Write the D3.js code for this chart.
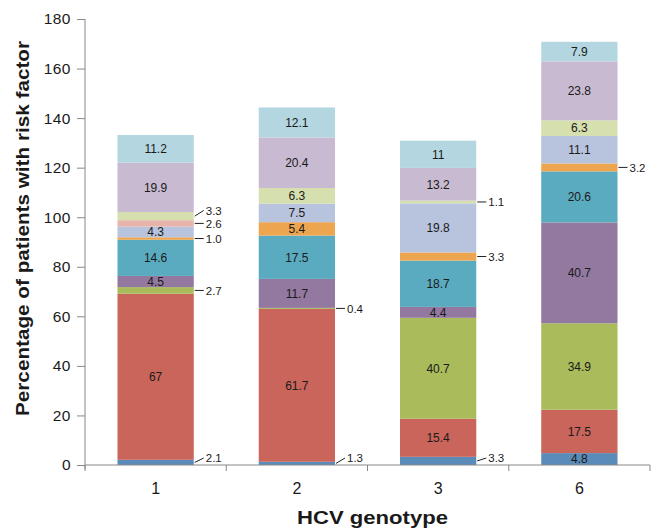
<!DOCTYPE html>
<html>
<head>
<meta charset="utf-8">
<script src="https://cdn.jsdelivr.net/npm/d3@7"></script>
<style>
  body { margin: 0; background: #fff; }
  svg { font-family: "Liberation Sans", Arial, sans-serif; }
</style>
</head>
<body>
<svg id="chart"></svg>
<script>
// genotypes along the x axis
var genotypes = ["1", "2", "3", "6"];

// risk factor layers, bottom to top (values per genotype, 0 = absent)
var layer1  = [2.1, 1.3, 3.3, 4.8];
var layer2  = [67, 61.7, 15.4, 17.5];
var layer3  = [2.7, 0.4, 40.7, 34.9];
var layer4  = [4.5, 11.7, 4.4, 40.7];
var layer5  = [14.6, 17.5, 18.7, 20.6];
var layer6  = [1.0, 5.4, 3.3, 3.2];
var layer7  = [4.3, 7.5, 19.8, 11.1];
var layer8  = [2.6, 0, 0, 0];
var layer9  = [3.3, 6.3, 1.1, 6.3];
var layer10 = [19.9, 20.4, 13.2, 23.8];
var layer11 = [11.2, 12.1, 11, 7.9];

var layerColors = ["#5b8cb9", "#c9655a", "#a9bb5b", "#9378a0", "#5aabbf",
                   "#eda54f", "#b8c3de", "#e7b4ab", "#d6dfae", "#c8bad0", "#b4d6e0"];

var yTicks = [0, 20, 40, 60, 80, 100, 120, 140, 160, 180];

var layers = [layer1, layer2, layer3, layer4, layer5, layer6,
              layer7, layer8, layer9, layer10, layer11];

var screen = {width: 652, height: 530};
var margins = {top: 19, right: 2, bottom: 65, left: 85};
var width = screen.width - margins.left - margins.right;
var height = screen.height - margins.top - margins.bottom;

var svg = d3.select("#chart")
            .attr("width", screen.width)
            .attr("height", screen.height);

var g = svg.append("g")
           .attr("transform", "translate(" + margins.left + "," + margins.top + ")");

var xScale = d3.scaleBand()
               .domain(genotypes)
               .range([0, width])
               .paddingInner(0.46)
               .paddingOuter(0.23);

var yScale = d3.scaleLinear()
               .domain([0, 180])
               .range([height, 0]);

// table for d3.stack
var table = genotypes.map(function(gt, i) {
  var row = {genotype: gt};
  layers.forEach(function(l, k) { row["k" + k] = l[i]; });
  return row;
});
var keys = layers.map(function(l, k) { return "k" + k; });
var stacked = d3.stack().keys(keys)(table);

// bars
var series = g.selectAll("g.layer")
  .data(stacked)
  .enter()
  .append("g")
  .attr("class", "layer")
  .attr("fill", function(d, k) { return layerColors[k]; });

series.selectAll("rect")
  .data(function(d) { return d; })
  .enter()
  .append("rect")
  .attr("x", function(d) { return xScale(d.data.genotype); })
  .attr("width", xScale.bandwidth())
  .attr("y", function(d) { return yScale(d[1]); })
  .attr("height", function(d) { return yScale(d[0]) - yScale(d[1]); });

var fmt = function(v) {
  return (v === 67 || v === 11) ? String(v) : v.toFixed(1);
};

// labels: inside when big enough, outside with a leader line otherwise
var outside = [];
stacked.forEach(function(s, k) {
  s.forEach(function(d, i) {
    var v = d[1] - d[0];
    if (v <= 0) return;
    var txt = fmt(layers[k][i]);
    var cy = yScale((d[0] + d[1]) / 2);
    var x0 = xScale(d.data.genotype);
    if (v >= 4) {
      g.append("text")
       .attr("x", x0 + xScale.bandwidth() / 2)
       .attr("y", cy)
       .attr("dy", "0.36em")
       .attr("text-anchor", "middle")
       .attr("font-size", 12)
       .attr("fill", "#1a1a1a")
       .text(txt);
    } else {
      outside.push({i: i, cy: cy, ly: cy, x: x0 + xScale.bandwidth(), txt: txt});
    }
  });
});

// spread outside labels of each bar so they don't collide
genotypes.forEach(function(gt, i) {
  var list = outside.filter(function(o) { return o.i === i; })
                    .sort(function(a, b) { return b.cy - a.cy; });
  list.forEach(function(o, j) {
    if (o.ly > height - 7) o.ly = height - 7;
    if (j > 0 && list[j - 1].ly - o.ly < 13) o.ly = list[j - 1].ly - 13;
  });
  list.forEach(function(o) {
    g.append("line")
     .attr("x1", o.x + 1).attr("y1", o.cy)
     .attr("x2", o.x + 10).attr("y2", o.ly)
     .attr("stroke", "#222").attr("stroke-width", 1);
    g.append("text")
     .attr("x", o.x + 12)
     .attr("y", o.ly)
     .attr("dy", "0.36em")
     .attr("font-size", 11.5)
     .attr("fill", "#1a1a1a")
     .text(o.txt);
  });
});

// y axis
var yAxis = d3.axisLeft(yScale).tickValues(yTicks).tickSize(8).tickPadding(6);
var ya = g.append("g").call(yAxis);
ya.select(".domain").attr("stroke", "#888").attr("d", "M0," + (height + 4) + "V0");
ya.selectAll(".tick line").attr("stroke", "#888");
ya.selectAll(".tick text").attr("font-size", 15.5).attr("fill", "#1a1a1a")
  .attr("letter-spacing", "0.5px")
  .attr("font-family", "Liberation Sans, Arial, sans-serif");

// x axis with ticks at category boundaries
var xa = g.append("g").attr("transform", "translate(0," + height + ")");
xa.append("line").attr("x1", 0).attr("x2", width).attr("stroke", "#888");
var step = xScale.step();
var bounds = [0].concat(genotypes.slice(1).map(function(gt) {
  return xScale(gt) - (step - xScale.bandwidth()) / 2;
})).concat([width]);
xa.selectAll("line.tk").data(bounds).enter().append("line")
  .attr("class", "tk")
  .attr("x1", function(d) { return d; }).attr("x2", function(d) { return d; })
  .attr("y1", 0).attr("y2", 6)
  .attr("stroke", "#888");
xa.selectAll("text").data(genotypes).enter().append("text")
  .attr("x", function(d) { return xScale(d) + xScale.bandwidth() / 2; })
  .attr("y", 29)
  .attr("text-anchor", "middle")
  .attr("font-size", 16)
  .attr("fill", "#1a1a1a")
  .text(function(d) { return d; });

// axis titles
svg.append("text")
   .attr("x", 297)
   .attr("y", 524)
   .attr("font-size", 18.5)
   .attr("font-weight", "bold")
   .attr("fill", "#1a1a1a")
   .attr("textLength", 151)
   .attr("lengthAdjust", "spacingAndGlyphs")
   .text("HCV genotype");

svg.append("text")
   .attr("transform", "translate(29,416) rotate(-90)")
   .attr("font-size", 17.5)
   .attr("font-weight", "bold")
   .attr("fill", "#1a1a1a")
   .attr("textLength", 375)
   .attr("lengthAdjust", "spacingAndGlyphs")
   .text("Percentage of patients with risk factor");
</script>
</body>
</html>
